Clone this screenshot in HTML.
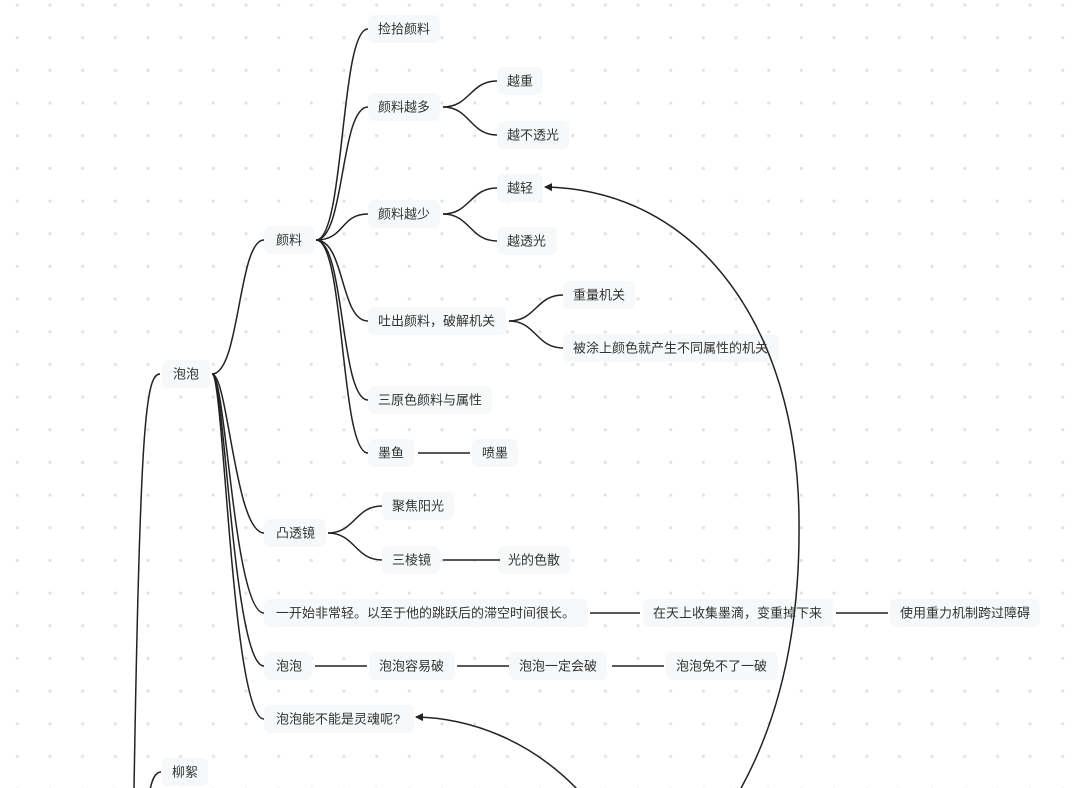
<!DOCTYPE html>
<html><head><meta charset="utf-8"><style>
html,body{margin:0;padding:0;background:#fff;}
svg{display:block;}
text{font-family:"Liberation Sans","Noto Sans CJK SC",sans-serif;font-size:13px;fill:#333;dominant-baseline:central;}
</style></head><body>
<svg width="1080" height="788" viewBox="0 0 1080 788" xmlns="http://www.w3.org/2000/svg">
<defs>
<pattern id="dots" x="1" y="-11.3" width="32.67" height="32.67" patternUnits="userSpaceOnUse">
<circle cx="16.3" cy="16.3" r="1.6" fill="#e2e2e2"/>
</pattern>
<marker id="ah" markerWidth="8" markerHeight="8" refX="7" refY="4" orient="auto" markerUnits="userSpaceOnUse">
<path d="M0,0 L8,4 L0,8 Z" fill="#222"/>
</marker>
</defs>
<rect width="1080" height="788" fill="url(#dots)"/>
<g fill="#f6f8fa">
<rect x="162" y="360" width="48" height="28" rx="6"/>
<rect x="264" y="226" width="50" height="28" rx="6"/>
<rect x="368" y="15" width="72" height="28" rx="6"/>
<rect x="368" y="93" width="72" height="28" rx="6"/>
<rect x="497" y="67" width="46" height="28" rx="6"/>
<rect x="497" y="121" width="72" height="28" rx="6"/>
<rect x="368" y="200" width="72" height="28" rx="6"/>
<rect x="497" y="174" width="46" height="28" rx="6"/>
<rect x="497" y="227" width="60" height="28" rx="6"/>
<rect x="368" y="307" width="138" height="28" rx="6"/>
<rect x="563" y="281" width="72" height="28" rx="6"/>
<rect x="563" y="334" width="216" height="28" rx="6"/>
<rect x="368" y="386" width="124" height="28" rx="6"/>
<rect x="368" y="439" width="46" height="28" rx="6"/>
<rect x="472" y="439" width="46" height="28" rx="6"/>
<rect x="264" y="519" width="62" height="28" rx="6"/>
<rect x="382" y="492" width="72" height="28" rx="6"/>
<rect x="382" y="546" width="58" height="28" rx="6"/>
<rect x="498" y="546" width="72" height="28" rx="6"/>
<rect x="264" y="599" width="324" height="28" rx="6"/>
<rect x="643" y="599" width="190" height="28" rx="6"/>
<rect x="890" y="599" width="150" height="28" rx="6"/>
<rect x="264" y="652" width="48" height="28" rx="6"/>
<rect x="369" y="652" width="86" height="28" rx="6"/>
<rect x="509" y="652" width="98" height="28" rx="6"/>
<rect x="666" y="652" width="112" height="28" rx="6"/>
<rect x="264" y="705" width="150" height="28" rx="6"/>
<rect x="162" y="758" width="46" height="28" rx="6"/>
</g>
<g fill="none" stroke="#222" stroke-width="1.5">
<path d="M160 374 C146 374 140 420 134 790"/>
<path d="M161 772 C155 772 152 780 150 790"/>
<path d="M212 374 C240 374 238 240 264 240"/>
<path d="M212 374 C228 374 235 533 264 533"/>
<path d="M212 374 C226 374 234 613 264 613"/>
<path d="M212 374 C225 374 233 666 264 666"/>
<path d="M212 374 C224 374 232 719 264 719"/>
<path d="M316 240 C345 240 340 29 368 29"/>
<path d="M316 240 C345 240 340 107 368 107"/>
<path d="M316 240 C345 240 340 214 368 214"/>
<path d="M316 240 C345 240 340 321 368 321"/>
<path d="M316 240 C345 240 340 400 368 400"/>
<path d="M316 240 C345 240 340 453 368 453"/>
<path d="M443 107 C470 107 470 81 497 81"/>
<path d="M443 107 C470 107 470 135 497 135"/>
<path d="M443 214 C470 214 470 188 497 188"/>
<path d="M443 214 C470 214 470 241 497 241"/>
<path d="M509 321 C536 321 536 295 563 295"/>
<path d="M509 321 C536 321 536 348 563 348"/>
<path d="M418 453 H470"/>
<path d="M328 533 C355 533 355 506 382 506"/>
<path d="M328 533 C355 533 355 560 382 560"/>
<path d="M443 560 H500"/>
<path d="M590 613 H640"/>
<path d="M836 613 H888"/>
<path d="M315 666 H367"/>
<path d="M457 666 H509"/>
<path d="M612 666 H664"/>
<path d="M740 790 C790 700 800 600 799 520 C798 330 700 190 545 187" marker-end="url(#ah)"/>
<path d="M578 790 C530 740 470 718 416 717" marker-end="url(#ah)"/>
</g>
<text x="173" y="374">泡泡</text>
<text x="276" y="240">颜料</text>
<text x="378" y="29">捡拾颜料</text>
<text x="378" y="107">颜料越多</text>
<text x="507" y="81">越重</text>
<text x="507" y="135">越不透光</text>
<text x="378" y="214">颜料越少</text>
<text x="507" y="188">越轻</text>
<text x="507" y="241">越透光</text>
<text x="378" y="321">吐出颜料，破解机关</text>
<text x="573" y="295">重量机关</text>
<text x="573" y="348">被涂上颜色就产生不同属性的机关</text>
<text x="378" y="400">三原色颜料与属性</text>
<text x="378" y="453">墨鱼</text>
<text x="482" y="453">喷墨</text>
<text x="276" y="533">凸透镜</text>
<text x="392" y="506">聚焦阳光</text>
<text x="392" y="560">三棱镜</text>
<text x="508" y="560">光的色散</text>
<text x="276" y="613">一开始非常轻。以至于他的跳跃后的滞空时间很长。</text>
<text x="653" y="613">在天上收集墨滴，变重掉下来</text>
<text x="900" y="613">使用重力机制跨过障碍</text>
<text x="276" y="666">泡泡</text>
<text x="379" y="666">泡泡容易破</text>
<text x="519" y="666">泡泡一定会破</text>
<text x="676" y="666">泡泡免不了一破</text>
<text x="276" y="719">泡泡能不能是灵魂呢?</text>
<text x="172" y="772">柳絮</text>
</svg>
</body></html>
